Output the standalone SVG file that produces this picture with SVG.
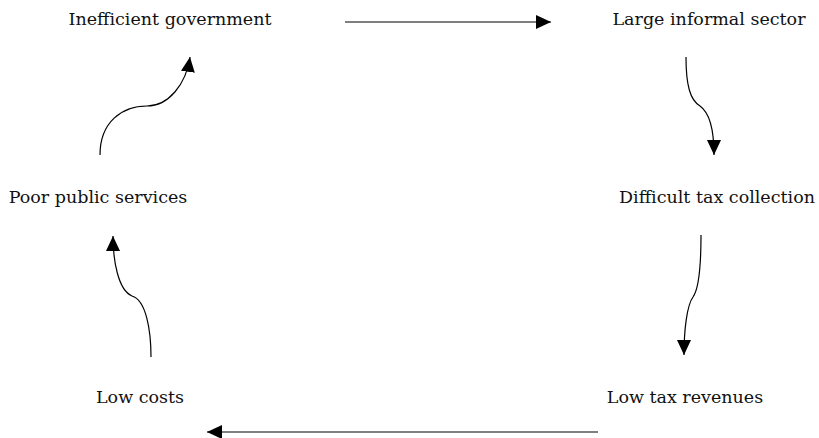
<svg xmlns="http://www.w3.org/2000/svg" width="819" height="438" viewBox="0 0 819 438">
<style>
text{font-family:"DejaVu Serif","Liberation Serif",serif;font-size:17.5px;fill:#111;text-anchor:middle}
.c{fill:none;stroke:#000;stroke-width:1.2}
</style>
<defs>
<marker id="ah" markerUnits="userSpaceOnUse" markerWidth="16" markerHeight="16" refX="15" refY="7" orient="auto">
<path d="M0,0 L15,7 L0,14 z" fill="#000"/>
</marker>
</defs>
<rect width="819" height="438" fill="#fff"/>
<g id="n1"><text x="170" y="25">Inefficient government</text></g>
<g id="n2"><text x="709" y="25">Large informal sector</text></g>
<g id="n3"><text x="717" y="203">Difficult tax collection</text></g>
<g id="n4"><text x="685" y="403">Low tax revenues</text></g>
<g id="n5"><text x="140" y="403">Low costs</text></g>
<g id="n6"><text x="98" y="203">Poor public services</text></g>
<g id="connectors">
<path class="c" d="M345,22 L551,22" marker-end="url(#ah)"/>
<path class="c" d="M686,57 C686,85 690,100 700,106 C710,113 714,130 714,155" marker-end="url(#ah)"/>
<path class="c" d="M701,235 C701,270 698,290 693,297 C687,305 684,330 684,355" marker-end="url(#ah)"/>
<path class="c" d="M598,432 L207,432" marker-end="url(#ah)"/>
<path class="c" d="M151,357 C151,330 146,300 132,296 C118,290 113,260 113,236" marker-end="url(#ah)"/>
<path class="c" d="M100,155 C100,122 122,106 147,106 C168,106 186,85 190,57" marker-end="url(#ah)"/>
</g>
</svg>
